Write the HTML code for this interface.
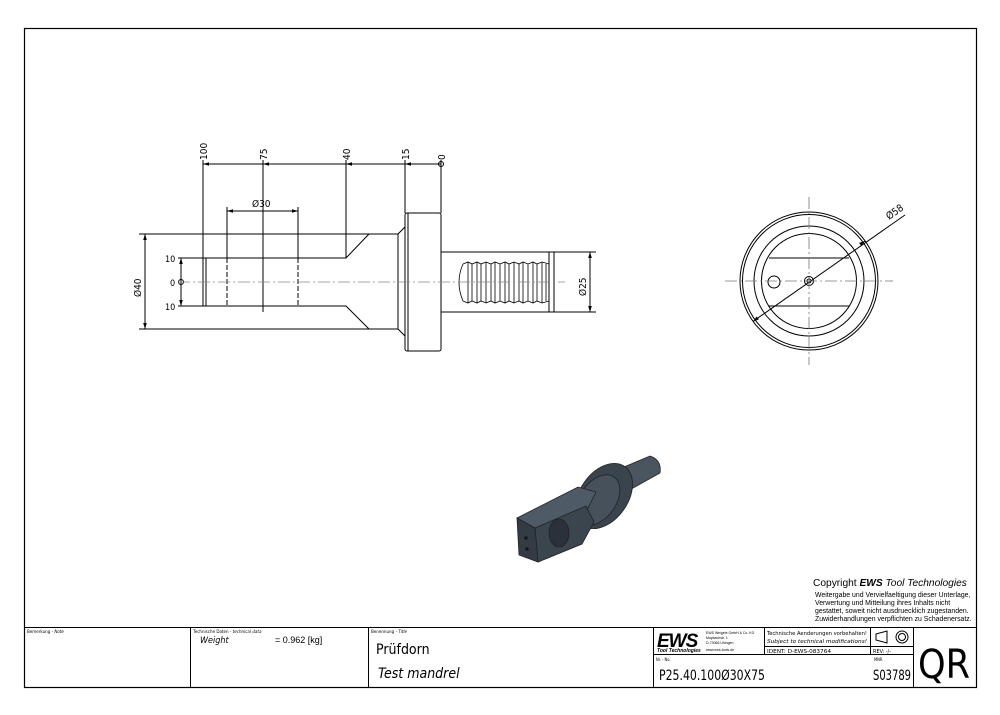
<!DOCTYPE html>
<html><head><meta charset="utf-8"><style>
html,body{margin:0;padding:0;background:#fff}
svg{display:block}
text{font-family:"Liberation Sans",sans-serif;fill:#000}
.m{font-family:"DejaVu Sans Condensed","DejaVu Sans",sans-serif}
</style></head><body>
<svg width="1000" height="715" viewBox="0 0 1000 715" xmlns="http://www.w3.org/2000/svg">
<defs>
<marker id="a" viewBox="0 0 10 10" refX="10" refY="5" markerWidth="6" markerHeight="6" orient="auto-start-reverse"><path d="M0,2 L10,5 L0,8 z" fill="#000"/></marker>
</defs>
<rect x="24.5" y="28.5" width="952" height="659" fill="none" stroke="#000" stroke-width="1.2"/>

<g stroke="#000" stroke-width="1" fill="none">
<line x1="203" y1="164" x2="441" y2="164" marker-start="url(#a)"/>
<line x1="263" y1="164" x2="270" y2="164" marker-start="url(#a)"/>
<line x1="346" y1="164" x2="353" y2="164" marker-start="url(#a)"/>
<line x1="405" y1="164" x2="412" y2="164" marker-start="url(#a)"/>
<circle cx="441" cy="164" r="2.5"/>
<line x1="203" y1="160" x2="203" y2="306"/>
<line x1="263" y1="160" x2="263" y2="312"/>
<line x1="346" y1="160" x2="346" y2="258"/>
<line x1="405" y1="160" x2="405" y2="213"/>
<line x1="441" y1="160" x2="441" y2="213"/>
<line x1="227" y1="211" x2="298" y2="211" marker-start="url(#a)" marker-end="url(#a)"/>
<line x1="227" y1="207" x2="227" y2="258"/>
<line x1="298" y1="207" x2="298" y2="258"/>
<line x1="139" y1="234" x2="398" y2="234"/>
<line x1="139" y1="329" x2="398" y2="329"/>
<line x1="145" y1="234" x2="145" y2="329" marker-start="url(#a)" marker-end="url(#a)"/>
<path d="M178,258 H346 L369,234 M178,306 H346 L369,329"/>
<path d="M203,258 V306 M206,258 V306"/>
<line x1="227" y1="258" x2="227" y2="306" stroke-dasharray="5,2"/>
<line x1="298" y1="258" x2="298" y2="306" stroke-dasharray="5,2"/>
<line x1="181" y1="258" x2="181" y2="306" marker-start="url(#a)" marker-end="url(#a)"/>
<circle cx="181" cy="282" r="2.5"/>
<line x1="398" y1="234" x2="398" y2="329"/>
<path d="M398,234 L405,227 M398,329 L405,336"/>
<rect x="405" y="213" width="36" height="138" rx="2"/>
<line x1="408" y1="213" x2="408" y2="351"/>
<path d="M441,252 H554 V312 H441"/>
<path d="M549,252 V312"/>
<line x1="554" y1="252" x2="596" y2="252"/>
<line x1="554" y1="312" x2="596" y2="312"/>
<line x1="590" y1="252" x2="590" y2="312" marker-start="url(#a)" marker-end="url(#a)"/>
<g stroke-width="0.8">
<path d="M463,264 Q455,282 463,301"/>
<path d="M463,264 L468,262 L472,264 L477,262 L481,264 L486,262 L491,264 L495,262 L500,264 L505,262 L509,264 L514,262 L519,264 L523,262 L528,264 L533,262 L537,264 L542,262 L549,264"/>
<path d="M463,301 L468,303 L472,301 L477,303 L481,301 L486,303 L491,301 L495,303 L500,301 L505,303 L509,301 L514,303 L519,301 L523,303 L528,301 L533,303 L537,301 L542,303 L549,301"/>
<path d="M468,262 V303 M477,262 V303 M486,262 V303 M495,262 V303 M505,262 V303 M514,262 V303 M523,262 V303 M533,262 V303 M542,262 V303"/>
<path d="M472,264 V301 M481,264 V301 M491,264 V301 M500,264 V301 M509,264 V301 M519,264 V301 M528,264 V301 M537,264 V301 M546,264 V301"/>
</g>
</g>
<line x1="178" y1="282" x2="565" y2="282" stroke="#888" stroke-width="0.8" stroke-dasharray="12,3,2,3"/>
<text class="m" font-size="10" transform="translate(207,160) rotate(-90)">100</text>
<text class="m" font-size="10" transform="translate(267,160) rotate(-90)">75</text>
<text class="m" font-size="10" transform="translate(350,160) rotate(-90)">40</text>
<text class="m" font-size="10" transform="translate(409,160) rotate(-90)">15</text>
<text class="m" font-size="10" transform="translate(445,160) rotate(-90)">0</text>
<text class="m" font-size="10" x="252" y="207">Ø30</text>
<text class="m" font-size="10" transform="translate(141,297) rotate(-90)">Ø40</text>
<text class="m" font-size="10" transform="translate(586,296) rotate(-90)">Ø25</text>
<text class="m" font-size="9" x="165" y="262">10</text>
<text class="m" font-size="9" x="170" y="286">0</text>
<text class="m" font-size="9" x="165" y="310">10</text>

<g stroke="#000" stroke-width="1" fill="none">
<circle cx="809" cy="281" r="69"/>
<circle cx="809" cy="281" r="66.5"/>
<circle cx="809" cy="281" r="55"/>
<circle cx="809" cy="281" r="47.5"/>
<path d="M769,258 H849 M769,306 H849"/>
<circle cx="774" cy="282" r="6"/>
<circle cx="809" cy="281" r="4.5"/>
<circle cx="809" cy="281" r="2"/>
<line x1="755" y1="320" x2="905" y2="215"/>
<line x1="755" y1="320" x2="753" y2="321.5" marker-end="url(#a)"/>
<line x1="862" y1="243" x2="865" y2="241" marker-end="url(#a)"/>
</g>
<line x1="725" y1="281" x2="893" y2="281" stroke="#777" stroke-width="0.8" stroke-dasharray="12,3,2,3"/>
<line x1="809" y1="197" x2="809" y2="365" stroke="#777" stroke-width="0.8" stroke-dasharray="12,3,2,3"/>
<text class="m" font-size="10" transform="translate(889,220) rotate(-35)">Ø58</text>

<g stroke="#222" stroke-width="0.8">
<path d="M612,472 L650,456 Q662,460 660,473 L626,492 z" fill="#4a5560"/>
<ellipse cx="604" cy="496" rx="24" ry="36" transform="rotate(35 604 496)" fill="#3a444d"/>
<ellipse cx="598" cy="500" rx="18" ry="28" transform="rotate(35 598 500)" fill="#46515b"/>
<path d="M517,518 L578,487 L596,492 L586,512 L535,528 z" fill="#4e5a65"/>
<path d="M535,528 L586,506 L594,522 L582,544 L538,562 z" fill="#3b454e"/>
<path d="M517,518 L535,528 L538,562 L519,555 z" fill="#333c44"/>
<ellipse cx="559" cy="533" rx="10" ry="14" fill="#2a3138"/>
<circle cx="526" cy="538" r="1.5" fill="#111"/>
<circle cx="527" cy="549" r="1.5" fill="#111"/>
</g>

<text x="813" y="586" font-size="10.2">Copyright <tspan font-weight="bold" font-style="italic">EWS</tspan><tspan font-style="italic"> Tool Technologies</tspan></text>
<text x="815" y="597" font-size="6.9">Weitergabe und Vervielfaeltigung dieser Unterlage,</text>
<text x="815" y="605" font-size="6.9">Verwertung und Mitteilung ihres Inhalts nicht</text>
<text x="815" y="613" font-size="6.9">gestattet, soweit nicht ausdruecklich zugestanden.</text>
<text x="815" y="621" font-size="6.9">Zuwiderhandlungen verpflichten zu Schadenersatz.</text>

<g stroke="#000" stroke-width="1" fill="none">
<line x1="24" y1="627.5" x2="976" y2="627.5"/>
<line x1="190.5" y1="627" x2="190.5" y2="687"/>
<line x1="368.5" y1="627" x2="368.5" y2="687"/>
<line x1="653.5" y1="627" x2="653.5" y2="687"/>
<line x1="764.5" y1="627" x2="764.5" y2="654"/>
<line x1="870.5" y1="627" x2="870.5" y2="654"/>
<line x1="913.5" y1="627" x2="913.5" y2="687"/>
<line x1="764" y1="646.5" x2="913" y2="646.5"/>
<line x1="653" y1="654.5" x2="913" y2="654.5"/>
<path d="M876,634 L887,631 V643 L876,640 z"/>
<circle cx="902" cy="637" r="6"/><circle cx="902" cy="637" r="3.5"/>
</g>
<text class="m" x="27" y="633" font-size="4.5">Bemerkung - <tspan font-style="italic">Note</tspan></text>
<text class="m" x="193" y="633" font-size="4.5">Technische Daten - <tspan font-style="italic">technical data</tspan></text>
<text class="m" x="371" y="633" font-size="4.5">Benennung - <tspan font-style="italic">Title</tspan></text>
<text class="m" x="200" y="643" font-size="9" font-style="italic">Weight</text>
<text x="275" y="643" font-size="9">= 0.962 [kg]</text>
<text class="m" x="376" y="654" font-size="14">Prüfdorn</text>
<text class="m" x="378" y="678" font-size="14" font-style="italic">Test mandrel</text>
<text x="657" y="647" font-size="19" font-weight="bold" font-style="italic" letter-spacing="-1">EWS</text>
<text x="657" y="652" font-size="5" font-weight="bold" font-style="italic">Tool Technologies</text>
<text x="706" y="634" font-size="3.5">EWS Weigele GmbH &amp; Co. KG</text>
<text x="706" y="639" font-size="3.5">Maybachstr. 1</text>
<text x="706" y="644" font-size="3.5">D-73066 Uhingen</text>
<text x="706" y="651" font-size="3.5">www.ews-tools.de</text>
<text class="m" x="767" y="635" font-size="5.5" textLength="100" lengthAdjust="spacingAndGlyphs">Technische Aenderungen vorbehalten!</text>
<text class="m" x="767" y="643" font-size="5.5" font-style="italic" textLength="100" lengthAdjust="spacingAndGlyphs">Subject to technical modifications!</text>
<text class="m" x="767" y="653" font-size="5.5" textLength="64" lengthAdjust="spacingAndGlyphs">IDENT:  D-EWS-083764</text>
<text class="m" x="873" y="653" font-size="5.5">REV:  -/-</text>
<text class="m" x="656" y="661" font-size="4">Nr. - No.</text>
<text class="m" x="874" y="661" font-size="4">MNR.</text>
<text class="m" x="659" y="680" font-size="14" textLength="106" lengthAdjust="spacingAndGlyphs">P25.40.100Ø30X75</text>
<text class="m" x="873" y="680" font-size="14" textLength="38" lengthAdjust="spacingAndGlyphs">S03789</text>
<text class="m" x="918" y="678" font-size="40" textLength="52" lengthAdjust="spacingAndGlyphs">QR</text>
</svg>
</body></html>
